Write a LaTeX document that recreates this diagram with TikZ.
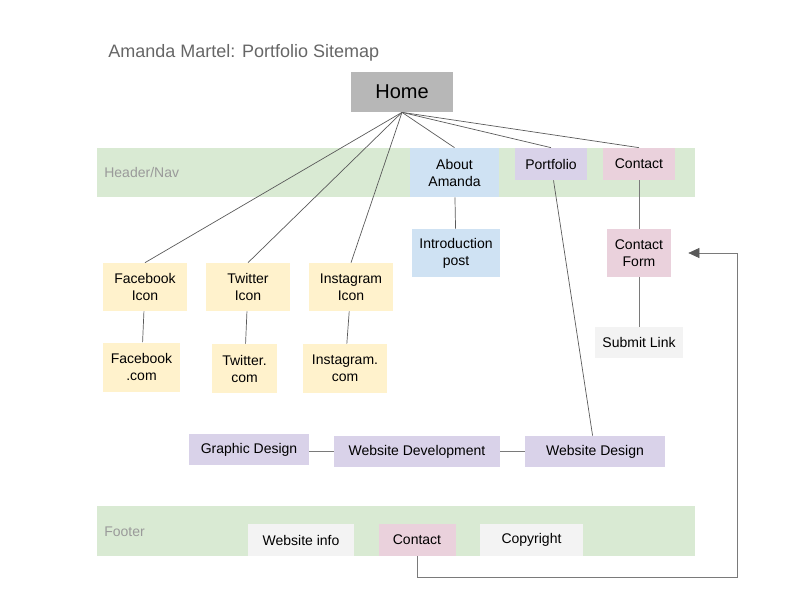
\documentclass[tikz,border=0pt]{standalone}
\usepackage{fontspec}
\setmainfont{Liberation Sans}
\usetikzlibrary{arrows.meta}
\definecolor{homegray}{HTML}{B7B7B7}
\definecolor{navgreen}{HTML}{D9EAD3}
\definecolor{aboutblue}{HTML}{CFE2F3}
\definecolor{folio}{HTML}{D9D2E9}
\definecolor{contactpink}{HTML}{EAD1DC}
\definecolor{iconyellow}{HTML}{FFF2CC}
\definecolor{infogray}{HTML}{F3F3F3}
\definecolor{linegray}{HTML}{5A5A5A}
\definecolor{loopgray}{HTML}{7A7A7A}
\definecolor{labelgray}{HTML}{9A9A9A}
\definecolor{titlegray}{HTML}{666666}

\begin{document}
\begin{tikzpicture}[x=1pt,y=-1pt
  ,line width=0.7pt,draw=linegray
  ,>={Triangle[length=11pt,width=10pt,color=linegray]}]
  \tikzset{every node/.style={font=\fontsize{14}{17}\selectfont,align=center,inner sep=0pt}
    ,page/.style={rectangle,minimum width=#1}
    ,band label/.style={anchor=base west,text=labelgray}}

  \useasboundingbox (0,0) rectangle (792,612);

  % bands
  \fill[navgreen] (97,148) rectangle (695,197);
  \fill[navgreen] (97,506) rectangle (695,556);
  \node[band label] (navlabel) at (104,178) {Header/Nav};
  \node[band label] (footlabel) at (104,536) {Footer};

  \node[anchor=base west,text=titlegray,font=\fontsize{18}{20}\selectfont]
    (title) at (108,58) {Amanda Martel: Portfolio Sitemap};

  \node[page=102pt,minimum height=40pt,fill=homegray,font=\fontsize{20}{24}\selectfont]
    (home) at (402,92) {Home};

  % header/nav
  \node[page=89pt,minimum height=49pt,fill=aboutblue]  (about)     at (454.5,172.5) {About\\Amanda};
  \node[page=72pt,minimum height=32pt,fill=folio]       (portfolio) at (551,164) {Portfolio};
  \node[page=72pt,minimum height=32pt,fill=contactpink] (contact)   at (639,164) {Contact};

  \node[page=88pt,minimum height=48pt,fill=aboutblue]   (intro)  at (456,253) {Introduction\\post};
  \node[page=64pt,minimum height=48pt,fill=contactpink] (cform)  at (639,253) {Contact\\Form};
  \node[page=88pt,minimum height=31pt,fill=infogray]    (submit) at (639,342.5) {Submit Link};

  % social
  \node[page=84pt,minimum height=48pt,fill=iconyellow] (fbicon) at (145,287) {Facebook\\Icon};
  \node[page=84pt,minimum height=48pt,fill=iconyellow] (twicon) at (248,287) {Twitter\\Icon};
  \node[page=84pt,minimum height=48pt,fill=iconyellow] (igicon) at (351,287) {Instagram\\Icon};
  \node[page=77pt,minimum height=49pt,fill=iconyellow] (fbcom)  at (141.5,367) {Facebook\\.com};
  \node[page=65pt,minimum height=49pt,fill=iconyellow] (twcom)  at (244.5,368.5) {Twitter.\\com};
  \node[page=84pt,minimum height=49pt,fill=iconyellow] (igcom)  at (345,368.5) {Instagram.\\com};

  % portfolio pages
  \node[page=120pt,minimum height=31pt,fill=folio] (gdesign) at (249,449.5) {Graphic Design};
  \node[page=166pt,minimum height=31pt,fill=folio] (wdev)    at (417,451.5) {Website Development};
  \node[page=140pt,minimum height=31pt,fill=folio] (wdesign) at (595,451.5) {Website Design};

  % footer
  \node[page=106pt,minimum height=32pt,fill=infogray]    (winfo)     at (301,540) {Website info};
  \node[page=77pt,minimum height=32pt,fill=contactpink]  (fcontact)  at (417,540) {Contact};
  \node[page=103pt,minimum height=32pt,fill=infogray]    (copyright) at (531.5,540) {Copyright};

  \coordinate (corner) at (737,577);

  \path
  (home.south) edge (fbicon.north)
  (home.south) edge (twicon.north)
  (home.south) edge (igicon.north)
  (home.south) edge (about.north)
  (home.south) edge (portfolio.north)
  (home.south) edge (contact.north)
  (about)      edge (intro)
  (fbicon)     edge (fbcom)
  (twicon)     edge (twcom)
  (igicon)     edge (igcom)
  (portfolio)  edge (wdesign)
  ;
  \path [draw=loopgray]
  (contact)              edge (cform)
  (cform)                edge (submit)
  (gdesign.east |- wdev) edge (wdev.west)
  (wdev)                 edge (wdesign)
  ;
  \draw[->,draw=loopgray,shorten >=17pt] (fcontact.south) |- (corner) |- (cform.east);

\end{tikzpicture}
\end{document}
